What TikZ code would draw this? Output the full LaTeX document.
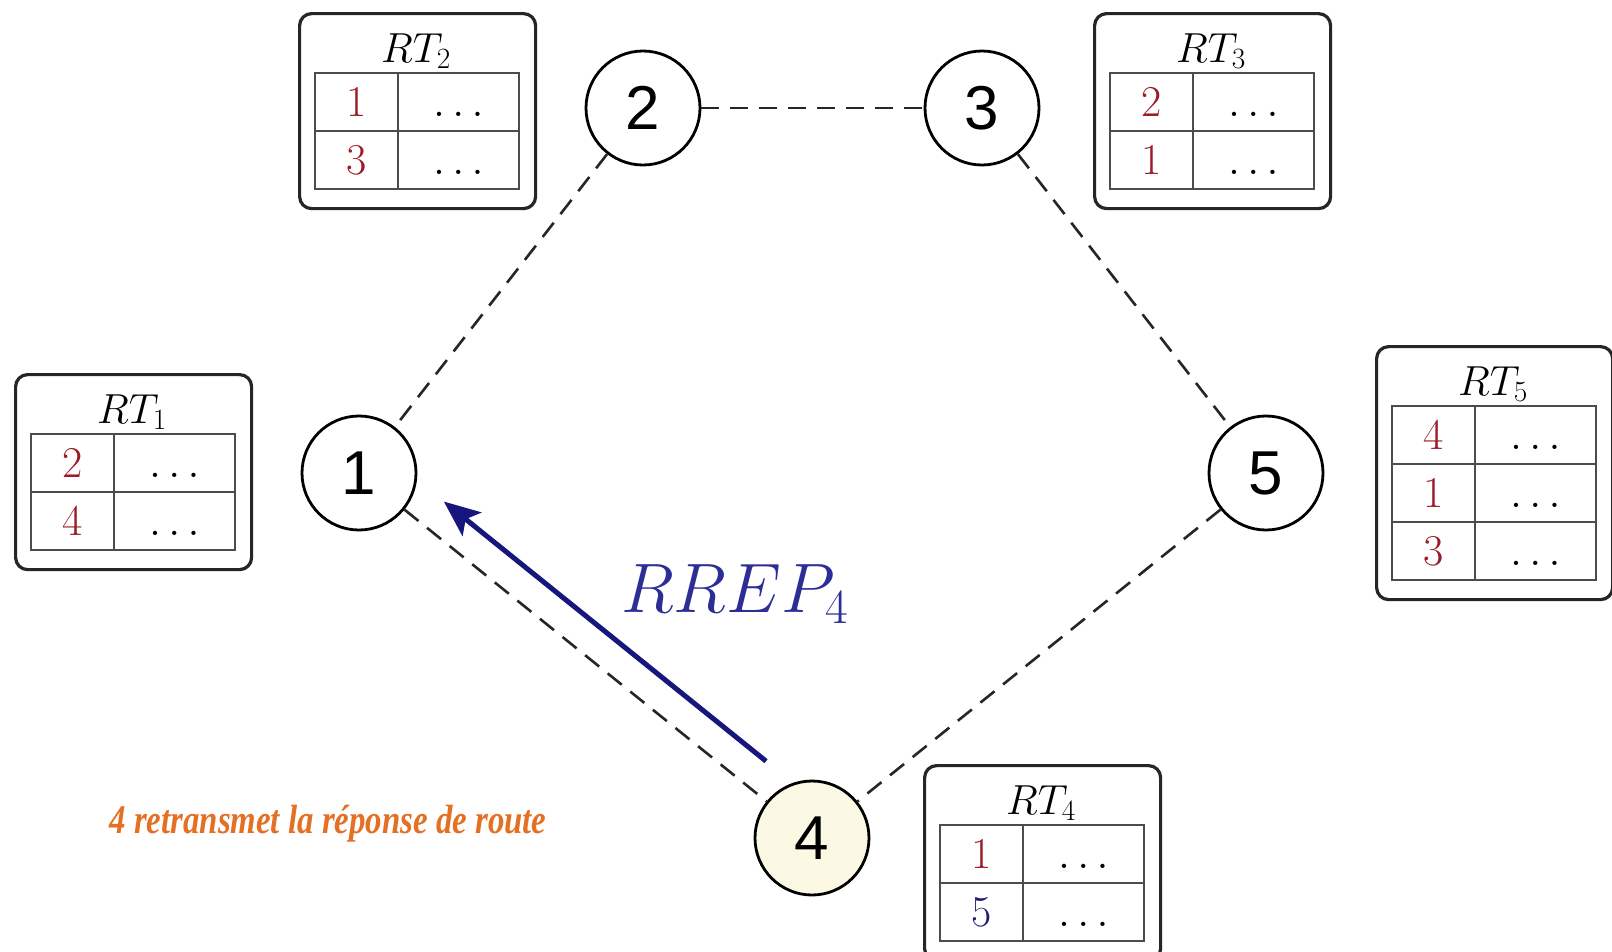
\RequirePackage{fix-cm}
\documentclass[tikz,border=0pt]{standalone}
\usepackage{fontspec}
\usetikzlibrary{arrows.meta,calc}
\newfontfamily\stationfont{Liberation Sans}
\newfontfamily\notefont{Liberation Serif}

\definecolor{entryred}{RGB}{155,28,40}
\definecolor{entryblue}{RGB}{30,30,120}
\definecolor{navyline}{RGB}{22,22,125}
\definecolor{replyblue}{RGB}{45,45,150}
\definecolor{noteorange}{RGB}{228,112,36}
\definecolor{activefill}{RGB}{251,248,228}

\tikzset{
  station/.style={circle, draw=black, line width=2.8pt, minimum size=114pt,
    inner sep=0pt, fill=white, font=\stationfont\fontsize{62}{66}\selectfont},
  link/.style={draw=black!85, line width=2.6pt, dash pattern=on 18pt off 11pt},
  tabbox/.style={draw=black!85, line width=3.2pt, rounded corners=12pt,
    minimum width=236pt, inner sep=0pt, fill=white},
  tabgrid/.style={draw=black!70, line width=2.8pt},
  tabtitle/.style={font=\fontsize{42}{46}\selectfont, anchor=base, inner sep=0pt},
  entry/.style={font=\fontsize{44}{48}\selectfont, anchor=base, inner sep=0pt},
  reply/.style={draw=navyline, line width=5pt,
    -{Stealth[length=36pt,width=30pt,inset=8pt]}},
}

% routing table: #1 name, #2 left, #3 top, #4 index, #5 rows, #6 entries digit/colour
\newcommand\routetable[6]{%
  \pgfmathsetmacro\tabh{61+58*#5+18}
  \node[tabbox, minimum height=\tabh pt, anchor=north west] (#1) at (#2,#3) {};
  \node[tabtitle] (#1-title) at (#2+118,#3+50) {$RT_{#4}$};
  \draw[tabgrid] (#2+17,#3+61) rectangle (#2+221,#3+61+58*#5);
  \draw[tabgrid] (#2+100,#3+61) -- (#2+100,#3+61+58*#5);
  \foreach \d/\c [count=\i] in {#6} {
    \ifnum\i>1 \draw[tabgrid] (#2+17,#3+3+58*\i) -- (#2+221,#3+3+58*\i);\fi
    \node[entry, text=\c] (#1-d\i) at (#2+58.5,#3+46+58*\i) {\d};
    \node[entry] (#1-v\i) at (#2+160.5,#3+46+58*\i) {$\ldots$};
  }
}

\begin{document}
\begin{tikzpicture}[x=1pt,y=-1pt]
  \clip (0,0) rectangle (1612,951);
  \fill[white] (0,0) rectangle (1612,951);

  % stations
  \node[station] (n1) at (359,473) {1};
  \node[station] (n2) at (643,108) {2};
  \node[station] (n3) at (982,108) {3};
  \node[station] (n5) at (1266,473) {5};
  \node[station, fill=activefill] (n4) at (812,838) {4};

  % radio links
  \draw[link] (n2) -- (n3);
  \draw[link] (n2) -- (n1);
  \draw[link] (n3) -- (n5);
  \draw[link] (n1) -- (n4);
  \draw[link] (n5) -- (n4);

  % routing tables
  \routetable{rt1}{14}{373}{1}{2}{2/entryred,4/entryred}
  \routetable{rt2}{298}{12}{2}{2}{1/entryred,3/entryred}
  \routetable{rt3}{1093}{12}{3}{2}{2/entryred,1/entryred}
  \routetable{rt5}{1375}{345}{5}{3}{4/entryred,1/entryred,3/entryred}
  \routetable{rt4}{923}{764}{4}{2}{1/entryred,5/entryblue}

  % route reply sent back from 4 towards 1
  \coordinate (tailbase) at ($(n4)!84pt!(n1)$);
  \coordinate (replytail) at ($(tailbase)!31pt!-90:(n1)$);
  \coordinate (headbase) at ($(n1)!84pt!(n4)$);
  \coordinate (replyhead) at ($(headbase)!31pt!90:(n4)$);
  \draw[reply] (replytail) -- (replyhead);
  \node[text=replyblue, font=\fontsize{70}{76}\selectfont] (rrep) at (735,594) {$RREP_4$};

  % caption
  \node[text=noteorange, inner sep=0pt] (note) at (328,824)
    {\resizebox*{437pt}{37pt}{\notefont\bfseries\itshape 4 retransmet la réponse de route}};
\end{tikzpicture}
\end{document}
